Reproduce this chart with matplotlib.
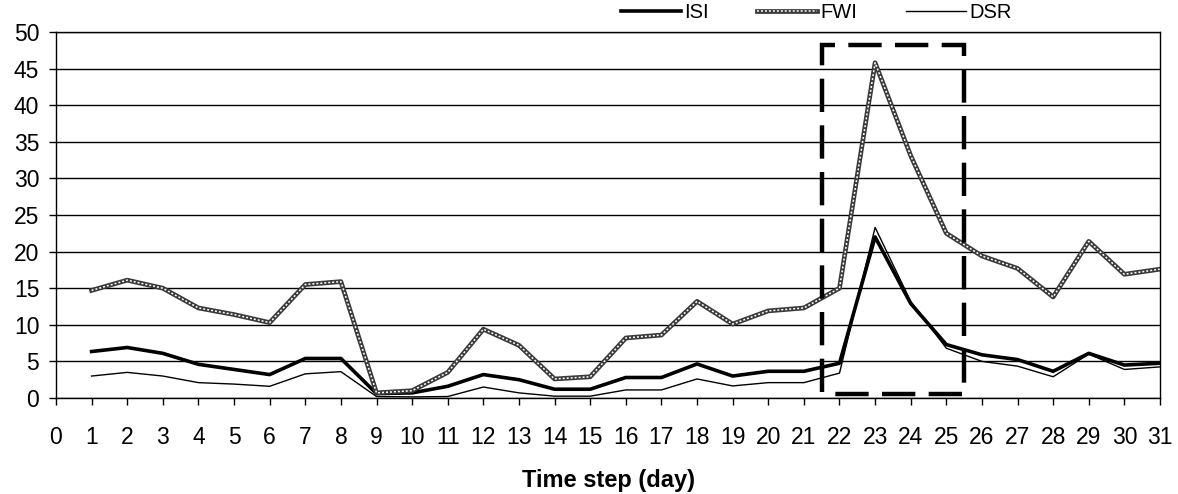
import matplotlib
matplotlib.use("Agg")
import matplotlib.pyplot as plt
from matplotlib.lines import Line2D
from matplotlib.legend_handler import HandlerTuple
from matplotlib.patches import Rectangle

plt.rcParams['font.family'] = ['Liberation Sans', 'DejaVu Sans']

days = list(range(1, 32))
isi = [6.35, 6.9, 6.1, 4.6, 3.9, 3.2, 5.4, 5.4, 0.6, 0.7, 1.6, 3.2, 2.5, 1.2, 1.2,
       2.8, 2.8, 4.65, 3.0, 3.65, 3.65, 4.75, 22.0, 12.9, 7.3, 5.9, 5.25, 3.65, 6.1, 4.5, 4.75]
fwi = [14.7, 16.1, 15.0, 12.3, 11.4, 10.3, 15.5, 15.9, 0.7, 1.0, 3.5, 9.4, 7.2, 2.6, 2.9,
       8.2, 8.6, 13.2, 10.1, 11.9, 12.3, 15.0, 45.8, 33.1, 22.5, 19.4, 17.7, 13.8, 21.4, 16.9, 17.6]
dsr = [3.0, 3.5, 3.0, 2.1, 1.9, 1.6, 3.3, 3.6, 0.2, 0.15, 0.2, 1.5, 0.7, 0.25, 0.25,
       1.1, 1.1, 2.6, 1.65, 2.1, 2.1, 3.4, 23.3, 13.2, 6.8, 5.0, 4.35, 2.9, 6.0, 3.9, 4.25]
series_names = ["ISI", "FWI", "DSR"]
xticks = list(range(0, 32))
yticks = list(range(0, 51, 5))
xlabel = "Time step (day)"
highlight = (21.5, 25.5, 0.6, 48.2)  # x0, x1, y0, y1

fig = plt.figure(figsize=(11.78, 4.94), dpi=100)
ax = fig.add_axes([56/1178, 1-398/494, (1160-56)/1178, (398-32)/494])

ax.set_xlim(0, 31)
ax.set_ylim(0, 50)
ax.set_xticks(xticks)
ax.set_yticks(yticks)
ax.yaxis.grid(True, color='black', lw=1.0)
ax.set_axisbelow(True)
for s in ax.spines.values():
    s.set_color('black')
    s.set_linewidth(1.0)
ax.tick_params(axis='both', direction='out', length=5, width=1.0, labelsize=16.5, colors='black')
ax.tick_params(axis='x', pad=15.5)
ax.tick_params(axis='y', pad=7)

l_dsr, = ax.plot(days, dsr, color='black', lw=1.0)
l_isi, = ax.plot(days, isi, color='black', lw=2.6)
f1, = ax.plot(days, fwi, color='#3a3a3a', lw=3.4)
f2, = ax.plot(days, fwi, color='white', lw=1.1, ls=(0, (1.3, 1.3)))

x0, x1, y0, y1 = highlight
rect = Rectangle((x0, y0), x1 - x0, y1 - y0, fill=False, edgecolor='black',
                 lw=3.2, ls=(7.5, (7.5, 3.0)), clip_on=False, zorder=5)
ax.add_patch(rect)

ax.set_xlabel(xlabel, fontsize=17, fontweight='bold', labelpad=14)

h_isi = Line2D([], [], color='black', lw=2.6)
h_f1 = Line2D([], [], color='#3a3a3a', lw=3.4)
h_f2 = Line2D([], [], color='white', lw=1.1, ls=(0, (1.3, 1.3)))
h_dsr = Line2D([], [], color='black', lw=1.0)
fig.legend([h_isi, (h_f1, h_f2), h_dsr], series_names,
           handler_map={tuple: HandlerTuple(ndivide=1, pad=0)},
           loc='center', bbox_to_anchor=(816/1178, 1-13/494), ncol=3, frameon=False,
           fontsize=14.5, handlelength=3.0, handletextpad=0.15, columnspacing=2.4,
           borderpad=0, borderaxespad=0)

fig.savefig("out.png", dpi=100)
